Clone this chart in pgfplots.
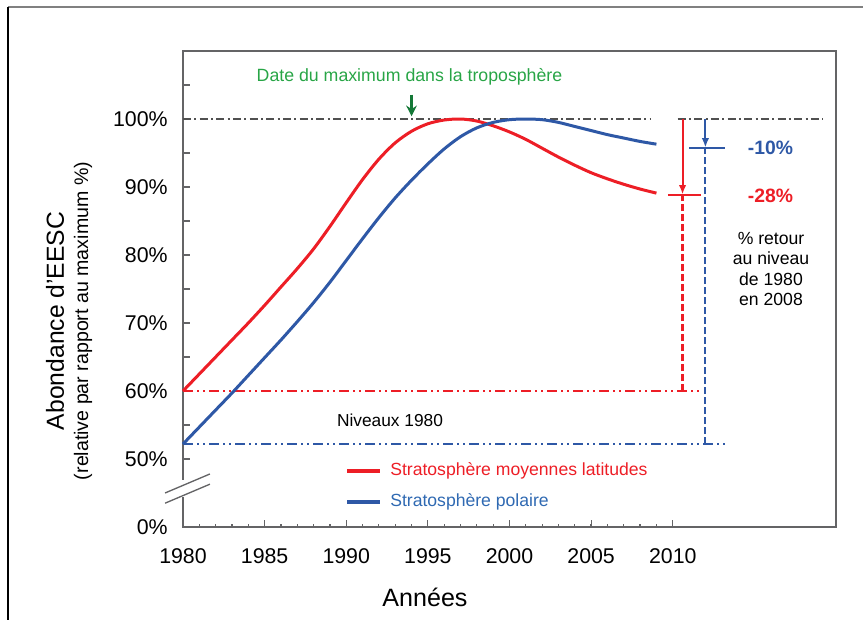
\documentclass[border=0pt]{standalone}
\usepackage{pgfplots}
\pgfplotsset{compat=1.18}
\usetikzlibrary{arrows.meta}
\usepackage{fontspec}
\setmainfont{Liberation Sans}
\definecolor{myred}{RGB}{237,30,38}
\definecolor{myblue}{RGB}{46,88,166}
\definecolor{legblue}{RGB}{47,105,178}
\definecolor{greentext}{RGB}{40,165,70}
\definecolor{greenarrow}{RGB}{20,120,55}
\definecolor{framegray}{RGB}{100,100,102}
\definecolor{refgray}{RGB}{80,80,80}

\pgfplotstableread{
year red
1980 60
1981 62.5
1982 65
1983 67.5
1984 70
1985 72.6
1986 75.3
1987 78.0
1988 80.9
1989 84.2
1990 87.7
1991 91.1
1992 94.1
1993 96.5
1994 98.2
1995 99.3
1996 99.85
1997 100
1998 99.7
1999 99.0
2000 98.1
2001 97.0
2002 95.7
2003 94.4
2004 93.2
2005 92.1
2006 91.2
2007 90.4
2008 89.7
2009 89.1
}\redtab

\pgfplotstableread{
year blue
1980 52.2
1981 54.7
1982 57.2
1983 59.7
1984 62.3
1985 64.9
1986 67.5
1987 70.2
1988 73.0
1989 76.0
1990 79.2
1991 82.4
1992 85.5
1993 88.4
1994 91.0
1995 93.4
1996 95.6
1997 97.4
1998 98.7
1999 99.5
2000 99.9
2001 100
2002 99.9
2003 99.5
2004 98.9
2005 98.3
2006 97.7
2007 97.2
2008 96.7
2009 96.3
}\bluetab

\begin{document}
\begin{tikzpicture}
\useasboundingbox (0,0) rectangle (647.25pt,469.5pt);
\begin{axis}[
  at={(137.25pt,74.25pt)}, anchor=south west,
  scale only axis, width=489.75pt, height=357pt,
  xmin=1980, xmax=2020, ymin=40, ymax=110,
  axis line style={draw=framegray, line width=1.5pt},
  tick align=inside, xtick pos=bottom, ytick pos=left,
  xtick={1980,1985,1990,1995,2000,2005,2010},
  xticklabels={1980,1985,1990,1995,2000,2005,2010},
  minor xtick={1981,1982,...,2009},
  ytick={40,50,55,60,65,70,75,80,85,90,95,100,105},
  yticklabels={0\%,50\%,,60\%,,70\%,,80\%,,90\%,,100\%,},
  major tick length=5pt, minor tick length=2.5pt,
  tick style={draw=framegray, line width=0.9pt},
  ticklabel style={font=\fontsize{16}{19}\selectfont},
  yticklabel style={xshift=-8pt},
  xticklabel style={yshift=-13pt},
  clip=false,
]
% reference lines
\addplot[refgray, line width=1.4pt, dash pattern=on 6pt off 2.5pt on 1.5pt off 2.5pt] coordinates {(1980,100) (2008.6,100)};
\addplot[refgray, line width=1.4pt, dash pattern=on 6pt off 2.5pt on 1.5pt off 2.5pt] coordinates {(2010.3,100) (2019.2,100)};
\addplot[myred, line width=1.5pt, dash pattern=on 7.5pt off 3pt on 1.5pt off 3pt on 1.5pt off 3pt] coordinates {(1980,60) (2011.6,60)};
\addplot[myblue, line width=1.8pt, dash pattern=on 7.5pt off 3pt on 1.5pt off 3pt on 1.5pt off 3pt] coordinates {(1980,52.2) (2013.3,52.2)};
\addplot[myred, line width=1.6pt, dash pattern=on 5pt off 2.5pt] coordinates {(2010.6,60) (2010.6,88.8)};
\addplot[myblue, line width=1.6pt, dash pattern=on 5pt off 2.5pt] coordinates {(2012,52.2) (2012,95.7)};
\addplot[myred, line width=1.5pt, -{Latex[length=7pt,width=5.5pt]}] coordinates {(2010.6,100) (2010.6,88.9)};
\addplot[myred, line width=1.5pt] coordinates {(2009.7,88.8) (2011.7,88.8)};
\addplot[myblue, line width=1.5pt, -{Latex[length=7pt,width=5.5pt]}] coordinates {(2012,100) (2012,95.8)};
\addplot[myblue, line width=1.5pt] coordinates {(2011,95.7) (2013.2,95.7)};
\addplot[greenarrow, line width=1.8pt, -{Stealth[length=8pt,width=8pt]}] coordinates {(1994,103.6) (1994,100.4)};
% curves
\addplot[myred, line width=2.25pt, smooth] table[x=year,y=red] {\redtab};
\addplot[myblue, line width=2.25pt, smooth] table[x=year,y=blue] {\bluetab};
% break coordinates
\coordinate (bA) at (axis cs:1979.3,44.4);
\coordinate (bB) at (axis cs:1980.7,46.9);
\coordinate (s1a) at (axis cs:1978.9,45.0);
\coordinate (s1b) at (axis cs:1981.65,47.8);
\coordinate (s2a) at (axis cs:1978.9,43.5);
\coordinate (s2b) at (axis cs:1981.65,46.3);
\end{axis}
\fill[white] (bA) rectangle (bB);
\draw[framegray, line width=1pt] (s1a) -- (s1b);
\draw[framegray, line width=1pt] (s2a) -- (s2b);

\begin{scope}[x=0.75pt,y=-0.75pt,yshift=469.5pt]
\draw[gray, line width=1.5pt] (8,7) -- (863,7);
\draw[black, line width=1pt] (8,7) -- (8,620);
\node[rotate=90, font=\fontsize{18.5}{22}\selectfont] at (55,321) {Abondance d’EESC};
\node[rotate=90, font=\fontsize{14.7}{17}\selectfont] at (83,321) {(relative par rapport au maximum \%)};
\node[font=\fontsize{18.8}{22}\selectfont] at (425,597) {Années};
\node[text=greentext, font=\fontsize{13.3}{16}\selectfont] at (409.5,76.7) {Date du maximum dans la troposphère};
\node[font=\fontsize{13}{16}\selectfont] at (390,420) {Niveaux 1980};
\draw[myred, line width=3pt] (347,471) -- (380,471);
\draw[myblue, line width=3pt] (347,502) -- (380,502);
\node[anchor=west, inner sep=0pt, text=myred, font=\fontsize{13.2}{16}\selectfont] at (390,471) {Stratosphère moyennes latitudes};
\node[anchor=west, inner sep=0pt, text=legblue, font=\fontsize{13.2}{16}\selectfont] at (390,502) {Stratosphère polaire};
\node[text=myblue, font=\fontsize{14.5}{17}\selectfont\bfseries] at (770.5,148) {-10\%};
\node[text=myred, font=\fontsize{14.5}{17}\selectfont\bfseries] at (770.5,196) {-28\%};
\node[align=center, font=\fontsize{13.2}{15.4}\selectfont] at (771,269) {\% retour\\au niveau\\de 1980\\en 2008};
\end{scope}
\end{tikzpicture}
\end{document}
